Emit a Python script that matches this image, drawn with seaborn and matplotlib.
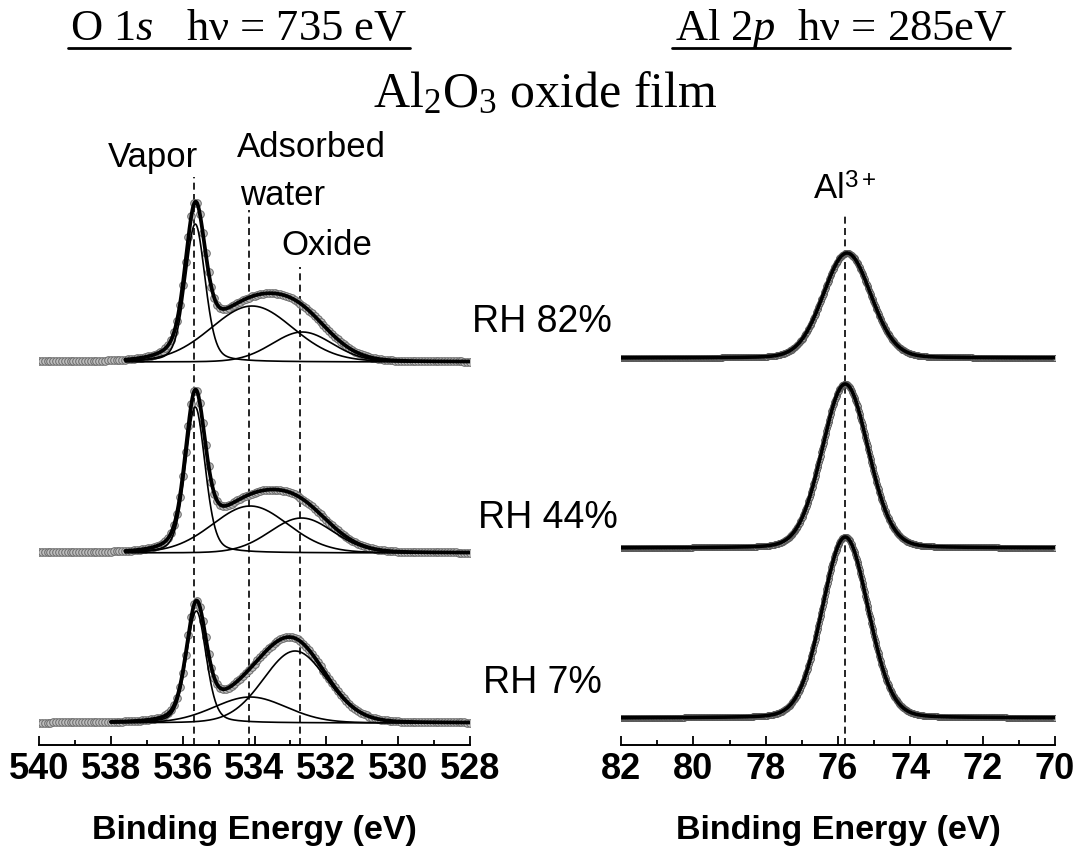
import numpy as np
import pandas as pd
import matplotlib
matplotlib.use("Agg")
import matplotlib.pyplot as plt
import seaborn as sns
from matplotlib.lines import Line2D
from matplotlib import font_manager

# ---- data ----------------------------------------------------------------
rh_labels = ["RH 82%", "RH 44%", "RH 7%"]

# O 1s components (center eV, height a.u., FWHM eV)
vapor_center = [535.65, 535.65, 535.62]
vapor_height = [138, 146, 112]
vapor_fwhm = [0.65, 0.65, 0.65]
water_center = [534.07, 534.12, 534.12]
water_height = [56, 47, 26]
water_fwhm = [2.7, 2.5, 2.4]
oxide_center = [532.67, 532.69, 532.87]
oxide_height = [30, 35, 72]
oxide_fwhm = [2.0, 2.1, 2.1]
fit_start = [537.6, 537.6, 538.0]
o1s_marks = [535.68, 534.15, 532.73]

# Al 2p single peak
al_center = [75.75, 75.8, 75.8]
al_height = [105, 164, 181]
al_fwhm = [1.55, 1.5, 1.5]
al_mark = 75.8

o1s_ticks = [540, 538, 536, 534, 532, 530, 528]
al_ticks = [82, 80, 78, 76, 74, 72, 70]

# ---- helpers --------------------------------------------------------------
def pv(x, c, h, w, m):
    g = np.exp(-4 * np.log(2) * (x - c) ** 2 / w ** 2)
    l = 1 / (1 + 4 * (x - c) ** 2 / w ** 2)
    return h * ((1 - m) * g + m * l)


def o1s_parts(x, i):
    v = pv(x, vapor_center[i], vapor_height[i], vapor_fwhm[i], 0.3)
    w = pv(x, water_center[i], water_height[i], water_fwhm[i], 0.1)
    o = pv(x, oxide_center[i], oxide_height[i], oxide_fwhm[i], 0.1)
    return v, w, o


W, H = 1077, 848
sns.set_theme(style="white")
plt.rcParams["font.family"] = ["Liberation Sans", "DejaVu Sans"]
plt.rcParams["text.color"] = "black"
plt.rcParams["axes.labelcolor"] = "black"
plt.rcParams["xtick.color"] = "black"
plt.rcParams["mathtext.fontset"] = "custom"
plt.rcParams["mathtext.rm"] = "Liberation Serif"
plt.rcParams["mathtext.it"] = "Liberation Serif:italic"
plt.rcParams["mathtext.sf"] = "Liberation Sans"

names = {f.name for f in font_manager.fontManager.ttflist}
if "Liberation Sans Narrow" in names:
    tick_family, tick_size = "Liberation Sans Narrow", 28
else:
    tick_family, tick_size = "Liberation Sans", 26

fig = plt.figure(figsize=(W / 100, H / 100), dpi=100)
bottom_px, top_px = 745, 100
ax1 = fig.add_axes([39 / W, 1 - bottom_px / H, 431 / W, (bottom_px - top_px) / H])
ax2 = fig.add_axes([621 / W, 1 - bottom_px / H, 434 / W, (bottom_px - top_px) / H])

left_offsets = [383, 192, 22]
right_offsets = [387, 197, 27]

# ---- O 1s panel ------------------------------------------------------------
for i in range(3):
    e_pts = np.arange(540, 527.97, -0.08)
    v, w, o = o1s_parts(e_pts, i)
    pts = pd.DataFrame({"E": e_pts, "I": v + w + o + left_offsets[i]})
    sns.scatterplot(data=pts, x="E", y="I", ax=ax1, s=30, color="#bdbdbd",
                    edgecolor="#6a6a6a", linewidth=0.7, zorder=2, legend=False)
    e_fit = np.linspace(fit_start[i], 528, 500)
    v, w, o = o1s_parts(e_fit, i)
    for comp in (v, w, o):
        sns.lineplot(x=e_fit, y=comp + left_offsets[i], ax=ax1, color="black",
                     lw=1.2, estimator=None, sort=False, zorder=3)
    sns.lineplot(x=e_fit, y=v + w + o + left_offsets[i], ax=ax1, color="black",
                 lw=2.7, estimator=None, sort=False, zorder=4)

for x, top in zip(o1s_marks, [568, 535, 478]):
    ax1.vlines(x, 0, top, colors="black", lw=1.2, linestyles=(0, (4.2, 2.6)), zorder=1)

# ---- Al 2p panel -----------------------------------------------------------
for i in range(3):
    e_pts = np.arange(82, 69.99, -0.02)
    y = pv(e_pts, al_center[i], al_height[i], al_fwhm[i], 0.1) + right_offsets[i]
    sns.scatterplot(x=e_pts, y=y, ax=ax2, s=18, color="#b4b4b4",
                    edgecolor="#555555", linewidth=0.6, zorder=2, legend=False)
    sns.lineplot(x=e_pts, y=y, ax=ax2, color="black", lw=2.6,
                 estimator=None, sort=False, zorder=4)
ax2.vlines(al_mark, 0, 530, colors="black", lw=1.2, linestyles=(0, (4.2, 2.6)), zorder=1)

# ---- axes styling ------------------------------------------------------------
for ax, ticks in ((ax1, o1s_ticks), (ax2, al_ticks)):
    ax.set_xlim(ticks[0], ticks[-1])
    ax.set_ylim(0, bottom_px - top_px)
    ax.set_yticks([])
    ax.set_ylabel("")
    ax.set_xticks(ticks, labels=[str(t) for t in ticks], fontsize=tick_size,
                  fontweight="bold", family=tick_family)
    ax.set_xticks(np.arange(ticks[-1] + 1, ticks[0], 2), minor=True)
    ax.tick_params(axis="x", which="major", direction="in", length=6.5, width=1.3,
                   bottom=True, top=False, pad=5, colors="black")
    ax.tick_params(axis="x", which="minor", direction="in", length=3.5, width=1.3,
                   bottom=True, top=False)
    for s in ("left", "right", "top"):
        ax.spines[s].set_visible(False)
    ax.spines["bottom"].set_color("black")
    ax.spines["bottom"].set_linewidth(1.4)
    ax.set_xlabel("Binding Energy (eV)", fontsize=24.5, fontweight="bold",
                  labelpad=20, color="black")
    ax.patch.set_alpha(0)

# ---- text -------------------------------------------------------------------
def fx(px):
    return px / W


def fy(py):
    return 1 - py / H


serif = ["Liberation Serif", "DejaVu Serif"]
fig.text(fx(239), fy(40), r"O $\mathit{1s}$   hν = 735 eV", fontsize=32,
         family=serif, ha="center", va="baseline")
fig.text(fx(841), fy(40), r"Al $\mathit{2p}$  hν = 285eV", fontsize=32,
         family=serif, ha="center", va="baseline")
fig.add_artist(Line2D([fx(68), fx(410)], [fy(48), fy(48)], color="black", lw=2))
fig.add_artist(Line2D([fx(672), fx(1010)], [fy(48), fy(48)], color="black", lw=2))
fig.text(fx(545), fy(107), r"Al$_2$O$_3$ oxide film", fontsize=36,
         family=serif, ha="center", va="baseline")

fig.text(fx(153), fy(167), "Vapor", fontsize=25, ha="center", va="baseline")
fig.text(fx(237), fy(157), "Adsorbed", fontsize=25, ha="left", va="baseline")
fig.text(fx(240), fy(205), "water", fontsize=25, ha="left", va="baseline")
fig.text(fx(327), fy(255), "Oxide", fontsize=25, ha="center", va="baseline")
for lbl, xc, yb in zip(rh_labels, [542, 548, 542], [332, 528, 693]):
    fig.text(fx(xc), fy(yb), lbl, fontsize=27, ha="center", va="baseline")
fig.text(fx(845), fy(200), r"Al$^{\mathsf{3+}}$", fontsize=25, ha="center", va="baseline")

fig.savefig("out.png", dpi=100)
